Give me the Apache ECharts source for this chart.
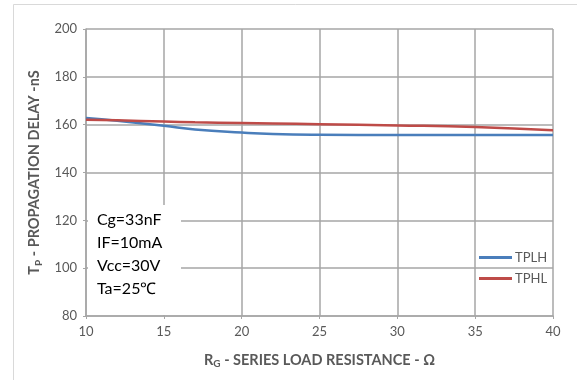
<!DOCTYPE html>
<html>
<head>
<meta charset="utf-8">
<script src="https://cdn.jsdelivr.net/npm/echarts@6/dist/echarts.min.js"></script>
<style>
  html, body { margin: 0; padding: 0; background: #fff; }
  #chart { width: 577px; height: 380px; }
</style>
</head>
<body>
<div id="chart"></div>
<script>
// Series load resistance (ohm) sample points
const resistance = [10, 12, 15, 17, 20, 22, 25, 30, 35, 40];
// Propagation delay low->high (ns)
const tplh = [162.8, 161.6, 159.5, 158.0, 156.7, 156.1, 155.8, 155.7, 155.7, 155.7];
// Propagation delay high->low (ns)
const tphl = [162.1, 161.8, 161.3, 161.0, 160.7, 160.5, 160.2, 159.7, 159.0, 157.7];
// Test conditions shown in the inset box
const conditions = ['Cg=33nF', 'IF=10mA', 'Vcc=30V', 'Ta=25℃'];

const FONT = 'Lato, "Open Sans", sans-serif';
const GREY_TEXT = '#595959';
const GRID_LINE = '#a6a6a6';

const pairs = (xs, ys) => xs.map((x, i) => [x, ys[i]]);

const nameRich = {
  b: { fontFamily: FONT, fontWeight: 'bold', fontSize: 14.5, color: GREY_TEXT },
  s: { fontFamily: FONT, fontWeight: 'bold', fontSize: 10, color: GREY_TEXT, padding: [8, 0, 0, 0] }
};

const chart = echarts.init(document.getElementById('chart'));
chart.setOption({
  animation: false,
  backgroundColor: '#fff',
  textStyle: { fontFamily: FONT },
  grid: { left: 86, right: 24, top: 29, bottom: 64 },
  xAxis: {
    type: 'value', min: 10, max: 40, interval: 5,
    name: '{b|R}{s|G}{b| - SERIES LOAD RESISTANCE - Ω}',
    nameLocation: 'middle', nameGap: 35,
    nameTextStyle: { rich: nameRich },
    axisLine: { show: true, lineStyle: { color: GRID_LINE, width: 1.5 } },
    axisTick: { show: true, length: 3, lineStyle: { color: GRID_LINE } },
    axisLabel: { color: GREY_TEXT, fontSize: 13, fontFamily: FONT, margin: 9 },
    splitLine: { show: true, lineStyle: { color: GRID_LINE, width: 1.5 } }
  },
  yAxis: {
    type: 'value', min: 80, max: 200, interval: 20,
    name: '{b|T}{s|P}{b| - PROPAGATION DELAY -nS}',
    nameLocation: 'middle', nameGap: 41, nameRotate: 90,
    nameTextStyle: { rich: nameRich },
    axisLine: { show: true, lineStyle: { color: GRID_LINE, width: 1.5 } },
    axisTick: { show: true, length: 3, lineStyle: { color: GRID_LINE } },
    axisLabel: { color: GREY_TEXT, fontSize: 13, fontFamily: FONT, margin: 9 },
    splitLine: { show: true, lineStyle: { color: GRID_LINE, width: 1.5 } }
  },
  legend: {
    orient: 'vertical', left: 474, top: 246, itemGap: 8,
    itemWidth: 33, itemHeight: 3, icon: 'rect',
    textStyle: { color: GREY_TEXT, fontSize: 13, fontFamily: FONT, padding: [0, 0, 0, -2] },
    data: ['TPLH', 'TPHL']
  },
  graphic: [
    { type: 'rect', silent: true, z: 0,
      shape: { x: 13.5, y: 4.5, width: 620, height: 420 },
      style: { fill: null, stroke: '#d9d9d9', lineWidth: 1 } },
    { type: 'rect', silent: true, z: 10,
      shape: { x: 88, y: 205, width: 93, height: 110 },
      style: { fill: '#fff' } },
    ...conditions.map((t, i) => ({
      type: 'text', silent: true, z: 11, left: 97, top: 212 + i * 23,
      style: { text: t, fill: '#000', fontSize: 16, fontFamily: FONT }
    }))
  ],
  series: [
    { name: 'TPLH', type: 'line', smooth: true, showSymbol: false,
      data: pairs(resistance, tplh),
      lineStyle: { color: '#4a7ebb', width: 2.5 }, itemStyle: { color: '#4a7ebb' } },
    { name: 'TPHL', type: 'line', smooth: true, showSymbol: false,
      data: pairs(resistance, tphl),
      lineStyle: { color: '#be4b48', width: 2.5 }, itemStyle: { color: '#be4b48' } }
  ]
});
</script>
</body>
</html>
